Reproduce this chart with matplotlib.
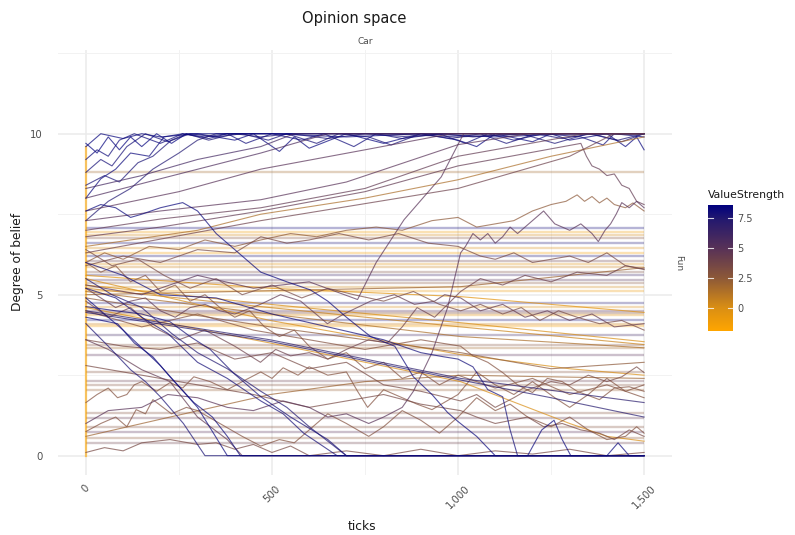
import matplotlib
matplotlib.use('Agg')
import matplotlib.pyplot as plt
from matplotlib.colors import LinearSegmentedColormap, Normalize
from matplotlib.cm import ScalarMappable

# colour scale for ValueStrength (orange -> navy)
strength_min, strength_max = -1.95, 8.62
scale_stops = [-1.95, 0.0, 2.5, 5.0, 7.5, 8.62]
scale_colors = ['#FFA500', '#D98E14', '#8C5838', '#573157', '#22186F', '#00007F']

# agents whose belief never moves (flat lines over the whole run)
flat_values = [8.82, 7.08, 6.95, 6.85, 6.75, 6.6, 6.45, 6.3, 6.2, 6.05, 5.95, 5.85,
               5.7, 5.6, 5.47, 5.35, 5.25, 5.1, 4.75, 4.63, 4.5, 4.44, 4.38, 4.22,
               4.1, 4.03, 3.76, 3.45, 3.35, 3.14, 2.6, 2.33, 2.2, 2.05, 1.34, 1.18,
               0.9, 0.75, 0.55, 0.4]
flat_strength = [1.8, 8.2, -1.2, 0.2, 3.0, 7.8, 0.0, -1.5, 8.0, 4.0, -0.3, 0.5,
                 3.2, 6.5, 5.2, 2.8, 0.3, -1.0, 7.6, 0.0, 5.0, 3.0, -0.5, 8.0,
                 0.5, -1.3, 6.2, 3.0, 1.8, 5.0, 3.0, 4.2, 3.0, 2.2, 3.0, 4.5,
                 3.0, 5.0, 2.5, 4.0]

# start column at tick 0
start_ticks = [0, 0]
start_values = [0, 9.6]
start_strength = -1.9

# strong agents stuck near the top
top_ticks = [
    [0, 20, 40, 100, 150, 200, 300, 400, 450, 520, 560, 600, 700, 800, 900, 1000, 1050, 1100, 1200, 1250, 1300, 1400, 1450, 1480, 1500],
    [0, 30, 60, 90, 130, 200, 260, 330, 380, 430, 500, 580, 640, 720, 780, 850, 950, 1020, 1080, 1150, 1230, 1330, 1390, 1420, 1500],
    [0, 40, 70, 110, 160, 220, 280, 350, 420, 490, 540, 620, 680, 760, 820, 900, 980, 1060, 1130, 1210, 1280, 1360, 1440, 1500],
    [0, 50, 90, 140, 180, 230, 270, 330, 400, 470, 550, 650, 750, 870, 960, 1040, 1170, 1260, 1350, 1430, 1500],
    [0, 40, 80, 120, 170, 210, 260, 320, 380, 500, 700, 900, 1100, 1300, 1500],
    [0, 60, 120, 180, 250, 300, 350, 500, 800, 1000, 1200, 1500],
    [0, 30, 60, 90, 120, 150, 190, 230, 270, 320, 600, 900, 1200, 1500],
]
top_values = [
    [9.6, 9.8, 10, 9.85, 10, 9.9, 10, 9.8, 10, 9.45, 9.9, 9.55, 10, 9.7, 10, 9.8, 9.6, 10, 9.75, 10, 9.8, 10, 9.6, 9.9, 9.5],
    [9.2, 9.5, 9.3, 9.8, 10, 9.7, 10, 9.85, 10, 9.7, 10, 9.8, 10, 9.6, 10, 9.85, 10, 9.7, 10, 9.8, 10, 9.9, 9.65, 10, 9.9],
    [8.8, 9.2, 9.0, 9.6, 10, 9.75, 10, 9.9, 10, 9.8, 10, 9.7, 10, 9.9, 9.65, 10, 9.85, 10, 9.7, 10, 9.85, 10, 9.75, 10],
    [8.4, 8.7, 8.5, 9.1, 9.3, 9.8, 10, 9.8, 10, 9.9, 10, 9.85, 10, 9.9, 10, 9.9, 10, 9.7, 10, 9.8, 10],
    [8.0, 8.6, 8.9, 9.4, 9.3, 9.9, 10, 9.9, 10, 10, 9.9, 10, 9.9, 10, 10],
    [7.3, 7.9, 8.3, 8.9, 9.4, 9.8, 10, 10, 10, 9.9, 10, 10],
    [9.7, 9.4, 9.9, 9.5, 9.9, 9.6, 10, 9.7, 10, 10, 10, 10, 10, 10],
]
top_strength = [8.4, 8.2, 8.0, 7.8, 8.3, 7.6, 8.5]

# slowly rising agents
rise_ticks = [
    [0, 150, 300, 470, 560, 1500],
    [0, 200, 470, 650, 1500],
    [0, 250, 470, 750, 980, 1500],
    [0, 200, 470, 700, 1000, 1190, 1500],
    [0, 200, 470, 750, 1000, 1340, 1500],
    [0, 200, 470, 750, 1000, 1330, 1345, 1360, 1380, 1400, 1420, 1440, 1460, 1480, 1500],
    [0, 300, 470, 750, 1000, 1250, 1500],
    [0, 470, 1000, 1300, 1420, 1500],
    [0, 50, 100, 170, 250, 320, 400, 470, 550, 620, 700, 780, 850, 930, 1000, 1050, 1100, 1150, 1200, 1250,
     1290, 1320, 1340, 1360, 1380, 1400, 1420, 1450, 1470, 1500],
    [0, 150, 300, 450, 600, 730, 780, 855, 955, 1015, 1500],
    [0, 60, 150, 220, 300, 380, 450, 530, 600, 650, 700, 760, 800, 850, 880, 930, 972, 1007, 1020, 1040, 1060,
     1080, 1100, 1120, 1140, 1160, 1180, 1200, 1230, 1260, 1300, 1330, 1360, 1377, 1395, 1410, 1425, 1440,
     1460, 1480, 1500],
    [0, 100, 200, 300, 400, 470, 540, 600, 680, 760, 840, 920, 1000, 1060, 1100, 1150, 1200, 1250, 1300, 1350,
     1400, 1450, 1500],
]
rise_values = [
    [8.3, 8.7, 9.2, 9.6, 10, 10],
    [8.0, 8.6, 9.4, 10, 10],
    [7.6, 8.2, 8.9, 9.5, 10, 10],
    [7.3, 7.6, 7.95, 8.5, 9.66, 10, 10],
    [7.0, 7.35, 7.7, 8.3, 9.3, 10, 10],
    [6.8, 7.1, 7.6, 8.2, 9.0, 9.7, 9.3, 9.0, 8.9, 8.7, 8.75, 8.4, 8.3, 7.9, 7.8],
    [6.5, 7.0, 7.5, 8.0, 8.57, 9.3, 9.9],
    [6.3, 7.3, 8.3, 9.3, 10, 10],
    [6.0, 6.3, 6.1, 6.5, 6.4, 6.7, 6.5, 6.7, 6.9, 6.8, 7.0, 7.1, 7.0, 7.3, 7.4, 7.1, 7.2, 7.3, 7.6, 7.8,
     7.9, 8.1, 7.9, 8.05, 7.85, 8.0, 7.8, 7.7, 7.85, 7.6],
    [5.3, 5.0, 5.6, 5.2, 5.4, 4.85, 6.0, 7.33, 8.66, 10, 10],
    [1.0, 1.4, 1.5, 1.9, 1.8, 1.5, 1.4, 1.7, 1.5, 1.2, 1.3, 1.0, 1.2, 1.5, 2.0, 3.2, 4.6, 6.3, 6.5, 6.9, 6.7,
     6.9, 6.6, 6.8, 7.1, 6.9, 7.1, 7.3, 7.6, 7.2, 7.0, 7.2, 6.9, 6.65, 7.0, 7.2, 7.5, 7.86, 7.7, 7.9, 7.7],
    [5.9, 6.2, 6.0, 6.4, 6.3, 6.8, 6.6, 6.7, 6.9, 6.7, 6.9, 6.6, 6.5, 6.2, 6.1, 6.3, 6.0, 6.1, 6.2, 6.0,
     6.3, 5.9, 5.78],
]
rise_strength = [6.0, 5.5, 5.0, 5.0, 4.5, 4.5, 1.5, 4.0, 2.5, 5.0, 5.0, 3.5]

# strong agents falling to zero
fall_ticks = [
    [0, 40, 80, 120, 150, 200, 260, 300, 350, 400, 470, 540, 603, 650, 700, 765, 830, 880, 930, 972, 1000,
     1050, 1100, 1500],
    [0, 80, 150, 226, 280, 334, 396, 470, 550, 650, 700, 1500],
    [0, 85, 130, 180, 226, 290, 340, 380, 415, 1500],
    [0, 60, 120, 160, 200, 262, 320, 1500],
    [0, 80, 150, 220, 300, 380, 470, 530, 585, 675, 1500],
    [0, 70, 150, 230, 300, 380, 470, 540, 600, 700, 1500],
    [0, 100, 200, 350, 500, 650, 800, 900, 962, 1000, 1040, 1080, 1120, 1140, 1160, 1500],
    [0, 100, 200, 300, 380, 1187, 1225, 1258, 1280, 1303, 1400, 1430, 1460, 1500],
    [0, 495, 1007, 1500],
    [0, 495, 1007, 1250, 1500],
]
fall_values = [
    [7.6, 7.8, 7.7, 7.4, 7.5, 7.7, 7.86, 7.6, 6.9, 6.4, 5.7, 5.4, 5.15, 4.8, 4.3, 3.7, 3.4, 2.45, 1.9, 1.34,
     1.06, 0.6, 0, 0],
    [4.63, 4.5, 4.4, 4.16, 3.7, 3.3, 2.57, 1.83, 1.2, 0.5, 0, 0],
    [4.3, 4.1, 3.5, 3.07, 2.45, 1.65, 1.2, 0.6, 0, 0],
    [4.1, 3.4, 2.67, 2.3, 1.83, 1.0, 0, 0],
    [5.2, 4.9, 4.3, 3.8, 2.9, 2.4, 1.7, 1.3, 0.7, 0, 0],
    [5.5, 5.0, 4.6, 3.8, 3.2, 2.7, 2.0, 1.5, 0.9, 0, 0],
    [6.0, 5.6, 5.0, 4.9, 4.4, 4.0, 3.6, 3.2, 3.07, 3.0, 2.76, 2.05, 1.83, 0.8, 0, 0],
    [4.9, 3.9, 2.8, 1.5, 0, 0, 0.8, 1.1, 0.5, 0, 0, 0.4, 0, 0],
    [4.5, 3.6, 2.4, 1.65],
    [4.45, 3.55, 2.35, 1.8, 1.2],
]
fall_strength = [8.3, 8.0, 8.2, 7.8, 8.0, 7.6, 8.1, 8.3, 7.2, 7.4]

# weak agents drifting down slowly
drift_ticks = [
    [0, 495, 1007, 1500],
    [0, 495, 1007, 1500],
    [0, 495, 1007, 1500],
    [0, 495, 1007, 1500],
    [0, 300, 495, 1007, 1300, 1500],
    [0, 495, 1007, 1300, 1400, 1500],
    [0, 495, 1007, 1250, 1500],
    [0, 1007, 1500],
    [0, 226, 495, 750, 1007, 1250, 1500],
]
drift_values = [
    [5.6, 5.2, 4.94, 4.45],
    [5.3, 4.7, 4.13, 3.54],
    [5.2, 4.6, 4.0, 3.45],
    [5.1, 4.4, 3.7, 3.35],
    [5.5, 4.7, 4.2, 3.14, 2.7, 2.5],
    [4.6, 3.5, 2.3, 1.0, 0.6, 0.45],
    [4.9, 4.0, 3.2, 2.7, 2.9],
    [5.0, 5.25, 5.84],
    [0.6, 1.2, 1.9, 2.3, 2.5, 2.45, 2.4],
]
drift_strength = [-0.5, 0.0, 0.5, 1.5, 0.0, 0.0, 2.5, 2.0, 2.0]

# middling agents wandering around
wander_ticks = [
    [0, 30, 60, 85, 110, 130, 150, 190, 226, 260, 290, 334, 380, 430, 470, 500, 530, 570, 600, 650, 700, 730,
     757, 800, 850, 890, 930, 970, 1000, 1050, 1100, 1150, 1200, 1260, 1300, 1350, 1400, 1450, 1500],
    [0, 40, 80, 110, 135, 160, 180, 230, 270, 300, 360, 420, 470, 520, 560, 600, 650, 700, 760, 800, 850, 900,
     950, 1000, 1050, 1100, 1140, 1187, 1250, 1300, 1350, 1400, 1450, 1480, 1500],
    [0, 50, 100, 150, 226, 300, 350, 400, 450, 500, 550, 600, 700, 800, 900, 1000, 1100, 1200, 1300, 1400, 1500],
    [0, 100, 200, 300, 400, 500, 600, 700, 800, 900, 1007, 1050, 1100, 1150, 1187, 1250, 1300, 1350, 1400,
     1440, 1480, 1500],
    [0, 150, 300, 450, 600, 750, 900, 1007, 1040, 1080, 1120, 1160, 1200, 1240, 1280, 1320, 1380, 1420, 1460, 1500],
    [0, 150, 300, 450, 600, 700, 800, 900, 1007, 1050, 1100, 1187, 1230, 1280, 1330, 1380, 1420, 1460, 1500],
    [0, 60, 150, 226, 300, 380, 420, 1500],
    [0, 40, 80, 120, 160, 200, 240, 280, 320, 360, 400, 469, 523, 577, 649, 693, 765, 829, 883, 937, 964, 1007,
     1060, 1120, 1180, 1240, 1300, 1360, 1420, 1500],
    [0, 60, 120, 180, 250, 320, 400, 469, 510, 550, 600, 650, 700, 760, 810, 850, 890, 937, 972, 1007, 1060,
     1120, 1180, 1250, 1320, 1400, 1450, 1500],
    [0, 70, 140, 210, 280, 350, 420, 500, 580, 650, 720, 800, 880, 950, 1007, 1060, 1120, 1170, 1220, 1270,
     1320, 1380, 1440, 1500],
    [0, 40, 80, 120, 160, 200, 240, 280, 320, 360, 400, 440, 480, 520, 560, 600, 650, 700, 750, 800, 850, 900,
     950, 1000, 1100, 1200, 1300, 1400, 1500],
]
wander_values = [
    [1.65, 1.9, 2.1, 1.8, 1.9, 2.2, 2.3, 2.0, 2.27, 2.1, 2.45, 2.3, 2.05, 2.36, 2.6, 2.4, 2.73, 2.5, 2.76, 2.5,
     2.6, 2.0, 1.5, 2.05, 1.8, 1.6, 1.43, 1.7, 1.9, 2.6, 2.2, 1.9, 2.3, 1.8, 1.5, 1.9, 2.4, 2.0, 2.2],
    [0.75, 1.0, 1.2, 0.9, 1.43, 1.3, 1.74, 1.3, 1.5, 1.4, 1.0, 0.6, 0.3, 0.5, 0.4, 0.8, 1.3, 1.0, 0.6, 0.9, 1.4,
     1.1, 0.7, 1.2, 1.8, 1.4, 1.6, 1.2, 0.9, 1.2, 0.8, 0.5, 0.6, 0.9, 0.7],
    [0.1, 0.25, 0.15, 0.4, 0.5, 0.35, 0.4, 0.2, 0.35, 0.1, 0.3, 0, 0.15, 0, 0.2, 0, 0.15, 0.05, 0.2, 0, 0.1],
    [3.6, 3.4, 3.3, 3.5, 3.0, 3.2, 2.7, 2.9, 2.2, 2.0, 1.7, 1.9, 1.5, 1.8, 2.05, 2.3, 2.2, 2.5, 2.3, 2.45,
     2.76, 2.58],
    [4.5, 4.0, 4.4, 3.9, 3.6, 3.3, 3.6, 3.4, 3.1, 2.9, 2.58, 2.2, 1.96, 2.4, 2.3, 2.0, 1.74, 2.1, 2.14, 2.0],
    [2.8, 2.5, 2.2, 1.9, 1.5, 1.7, 1.9, 1.6, 1.4, 1.2, 1.0, 1.2, 0.9, 1.0, 0.8, 0.7, 0.5, 0.8, 0.6],
    [3.6, 3.3, 2.67, 2.3, 1.2, 0.5, 0, 0],
    [5.2, 4.9, 4.6, 4.8, 4.9, 4.5, 4.3, 4.6, 4.7, 4.5, 4.4, 4.7, 5.0, 4.8, 4.1, 4.4, 4.8, 5.0, 4.7, 4.8, 5.0,
     4.9, 4.5, 4.7, 4.3, 4.5, 4.2, 4.4, 4.0, 4.1],
    [4.8, 4.3, 4.6, 4.0, 3.6, 3.9, 3.4, 2.9, 3.3, 3.1, 3.2, 3.0, 3.3, 3.6, 3.5, 4.0, 4.6, 4.3, 4.7, 5.1, 5.5,
     5.3, 5.6, 5.4, 5.7, 5.6, 5.9, 5.8],
    [6.4, 5.9, 6.1, 5.6, 5.2, 5.5, 5.0, 5.3, 4.9, 5.2, 5.0, 4.8, 5.1, 4.7, 4.5, 4.7, 4.4, 4.6, 4.2, 4.5, 4.3,
     4.1, 4.2, 3.9],
    [6.0, 5.7, 5.9, 5.4, 5.6, 5.1, 5.3, 4.8, 5.0, 4.6, 4.3, 4.5, 4.0, 3.7, 3.9, 3.4, 3.0, 3.2, 2.7, 2.9, 2.4,
     2.6, 2.2, 2.5, 2.1, 2.4, 1.9, 2.2, 1.8],
]
wander_strength = [3.0, 3.0, 3.5, 3.5, 3.0, 3.5, 4.5, 4.5, 4.0, 3.5, 3.0]

# colour map built from the picked stops
span = strength_max - strength_min
cmap = LinearSegmentedColormap.from_list(
    'orange_navy', [((s - strength_min) / span, c) for s, c in zip(scale_stops, scale_colors)])
norm = Normalize(strength_min, strength_max)

fig = plt.figure(figsize=(7.95, 5.35), dpi=100)
ax = fig.add_axes([58 / 795, 60 / 535, 614 / 795, 425 / 535])

# flat agents first, they sit underneath
for v, s in zip(flat_values, flat_strength):
    ax.plot([0, 1500], [v, v], color=cmap(norm(s)), lw=1.7, alpha=0.3, solid_capstyle='butt')

ax.plot(start_ticks, start_values, color=cmap(norm(start_strength)), lw=1.6, alpha=0.6)

groups = [(top_ticks, top_values, top_strength),
          (drift_ticks, drift_values, drift_strength),
          (wander_ticks, wander_values, wander_strength),
          (rise_ticks, rise_values, rise_strength),
          (fall_ticks, fall_values, fall_strength)]
for tks, vals, strs in groups:
    for t, v, s in zip(tks, vals, strs):
        ax.plot(t, v, color=cmap(norm(s)), lw=0.8, alpha=0.7)

ax.set_xlim(-75, 1575)
ax.set_ylim(-0.6, 12.6)
ax.set_xticks([0, 500, 1000, 1500])
ax.set_xticklabels(['0', '500', '1,000', '1,500'], rotation=45)
ax.set_xticks([250, 750, 1250], minor=True)
ax.set_yticks([0, 5, 10])
ax.set_yticks([2.5, 7.5, 12.5], minor=True)
ax.grid(which='major', color='#EBEBEB', lw=1.1)
ax.grid(which='minor', color='#F2F2F2', lw=0.7)
ax.set_axisbelow(True)
for sp in ax.spines.values():
    sp.set_visible(False)
ax.tick_params(which='both', length=0, labelsize=7.3, labelcolor='#4D4D4D')
ax.tick_params(axis='x', pad=6)
ax.tick_params(axis='y', pad=11)

fig.text(354 / 795, 1 - 19 / 535, 'Opinion space', ha='center', va='center', fontsize=10.5, color='#1A1A1A')
fig.text(365 / 795, 1 - 42 / 535, 'Car', ha='center', va='center', fontsize=6.5, color='#4D4D4D')
fig.text(679 / 795, 1 - 263 / 535, 'Fun', ha='center', va='center', fontsize=6.5, color='#4D4D4D', rotation=-90)
fig.text(362 / 795, 1 - 527 / 535, 'ticks', ha='center', va='center', fontsize=8.8, color='#1A1A1A')
fig.text(18 / 795, 1 - 262 / 535, 'Degree of belief', ha='center', va='center', fontsize=8.8,
         color='#1A1A1A', rotation=90)

# colour bar legend
cax = fig.add_axes([708 / 795, 204 / 535, 25 / 795, 126 / 535])
cb = fig.colorbar(ScalarMappable(norm=norm, cmap=cmap), cax=cax)
cb.outline.set_visible(False)
bar_ticks = [0, 2.5, 5, 7.5]
cb.set_ticks(bar_ticks)
cb.set_ticklabels(['0', '2.5', '5', '7.5'])
cax.tick_params(length=0, labelsize=7, labelcolor='#4D4D4D', pad=3)
for t in bar_ticks:
    cax.axhline(t, 0, 0.2, color='white', lw=0.8, alpha=0.8)
    cax.axhline(t, 0.8, 1, color='white', lw=0.8, alpha=0.8)
fig.text(708 / 795, 1 - 195 / 535, 'ValueStrength', ha='left', va='center', fontsize=7.8, color='#1A1A1A')

fig.savefig('out.png', dpi=100)
